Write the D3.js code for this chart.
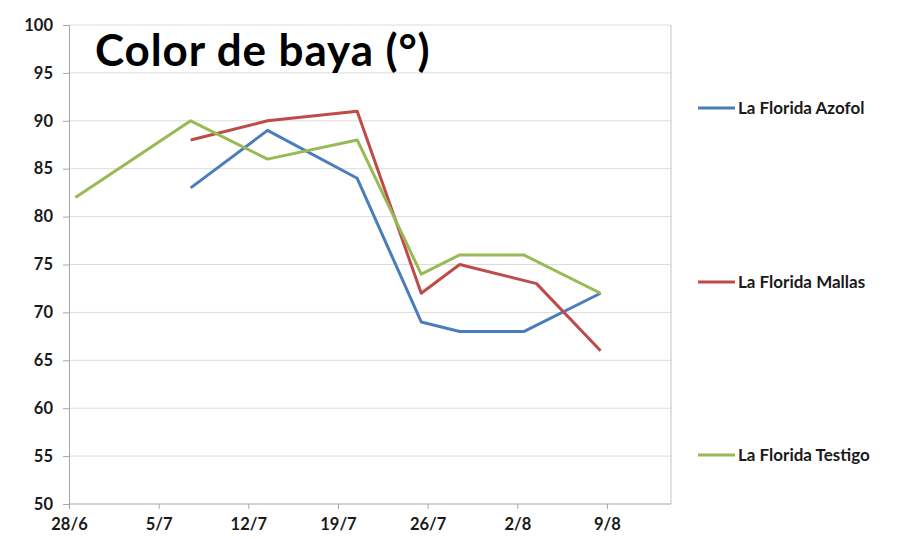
<!DOCTYPE html>
<html><head><meta charset="utf-8">
<script src="https://cdn.jsdelivr.net/npm/d3@7"></script>
<style>body{margin:0;background:#fff}svg{display:block}</style>
</head><body>
<svg id="c" width="911" height="539"></svg>
<script>
const titleText = "Color de baya (°)";
const seriesNames = ["La Florida Azofol", "La Florida Mallas", "La Florida Testigo"];
const seriesColors = ["#4a7ebb", "#be4b48", "#98b954"];
const azofolDates = ["2012-07-07","2012-07-13","2012-07-20","2012-07-25","2012-07-28","2012-08-02","2012-08-08"];
const azofolValues = [83, 89, 84, 69, 68, 68, 72];
const mallasDates = ["2012-07-07","2012-07-13","2012-07-20","2012-07-25","2012-07-28","2012-08-03","2012-08-08"];
const mallasValues = [88, 90, 91, 72, 75, 73, 66];
const testigoDates = ["2012-06-28","2012-07-07","2012-07-13","2012-07-20","2012-07-25","2012-07-28","2012-08-02","2012-08-08"];
const testigoValues = [82, 90, 86, 88, 74, 76, 76, 72];
const xTickDates = ["2012-06-28","2012-07-05","2012-07-12","2012-07-19","2012-07-26","2012-08-02","2012-08-09"];
const xDomain = ["2012-06-28","2012-08-14"];
const yTicks = [50,55,60,65,70,75,80,85,90,95,100];

const parse = d3.utcParse("%Y-%m-%d");
const fmt = d3.utcFormat("%-d/%-m");
const font = "Lato, 'Open Sans', sans-serif";
const svg = d3.select("#c");
const L = 69, R = 671, T = 25, B = 504;
const x = d3.scaleUtc().domain(xDomain.map(parse)).range([L, R]);
const y = d3.scaleLinear().domain([50, 100]).range([B, T]);
const half = 12 * 3600 * 1000;

// gridlines
svg.append("g").selectAll("line").data(yTicks.filter(v => v > 50)).join("line")
  .attr("x1", L).attr("x2", R).attr("y1", d => y(d)).attr("y2", d => y(d))
  .attr("stroke", "#dcdcdc").attr("stroke-width", 1);
// right border
svg.append("line").attr("x1", R).attr("x2", R).attr("y1", T).attr("y2", B)
  .attr("stroke", "#c4c4c4").attr("stroke-width", 1);

// y axis
const yAxis = svg.append("g").attr("transform", `translate(${L},0)`)
  .call(d3.axisLeft(y).tickValues(yTicks).tickSize(6).tickPadding(10).tickFormat(d3.format("d")));
yAxis.select(".domain").attr("stroke", "#a6a6a6");
yAxis.selectAll(".tick line").attr("stroke", "#a6a6a6");
yAxis.selectAll("text").attr("font-family", font).attr("font-size", 16.5).attr("font-weight", 700).attr("fill", "#1a1a1a");

// x axis
const xAxis = svg.append("g").attr("transform", `translate(0,${B})`)
  .call(d3.axisBottom(x).tickValues(xTickDates.map(parse)).tickSize(5).tickPadding(9).tickFormat(fmt));
xAxis.select(".domain").attr("stroke", "#a6a6a6").attr("d", `M${L},0H${R}`);
xAxis.selectAll(".tick line").attr("stroke", "#a6a6a6");
xAxis.selectAll("text").attr("font-family", font).attr("font-size", 16.5).attr("font-weight", 700).attr("fill", "#1a1a1a");

// lines
const allSeries = [
  azofolDates.map((d, i) => ({d: parse(d), v: azofolValues[i]})),
  mallasDates.map((d, i) => ({d: parse(d), v: mallasValues[i]})),
  testigoDates.map((d, i) => ({d: parse(d), v: testigoValues[i]}))
];
const line = d3.line().x(p => x(new Date(p.d.getTime() + half))).y(p => y(p.v));
svg.append("g").selectAll("path").data(allSeries).join("path")
  .attr("d", line).attr("fill", "none")
  .attr("stroke", (d, i) => seriesColors[i]).attr("stroke-width", 3)
  .attr("stroke-linejoin", "round");

// title
svg.append("text").attr("x", 95).attr("y", 66).text(titleText)
  .attr("font-family", font).attr("font-size", 44).attr("font-weight", 700)
  .attr("letter-spacing", 0.9).attr("fill", "#000");

// legend
const legendY = [108, 282, 455];
const lg = svg.append("g").selectAll("g").data(seriesNames).join("g")
  .attr("transform", (d, i) => `translate(698,${legendY[i]})`);
lg.append("line").attr("x1", 0).attr("x2", 37).attr("y1", 0).attr("y2", 0)
  .attr("stroke", (d, i) => seriesColors[i]).attr("stroke-width", 3);
lg.append("text").attr("x", 40).attr("y", 6).text(d => d)
  .attr("font-family", font).attr("font-size", 17).attr("font-weight", 700).attr("fill", "#1a1a1a");
</script>
</body></html>
